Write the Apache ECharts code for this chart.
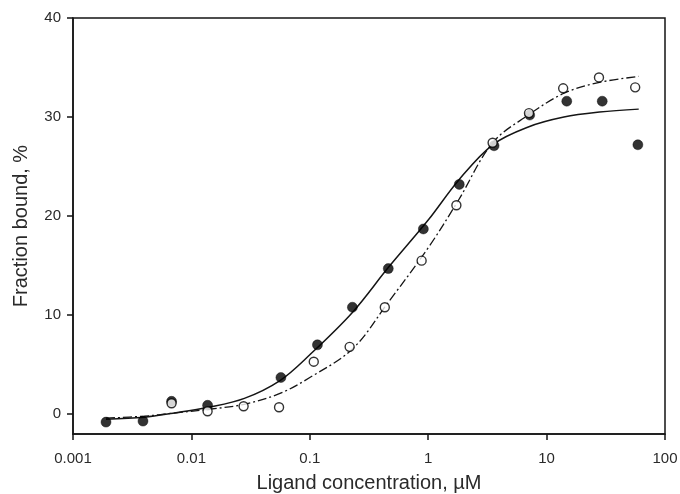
<!DOCTYPE html>
<html>
<head>
<meta charset="utf-8">
<style>
  html, body { margin: 0; padding: 0; background: #fff; }
  #chart { width: 680px; height: 494px; }
</style>
<script src="https://cdn.jsdelivr.net/npm/echarts@6/dist/echarts.min.js"></script>
</head>
<body>
<div id="chart"></div>
<script>
const filledX = [0.0019, 0.0039, 0.0068, 0.0137, 0.057, 0.116, 0.229, 0.46, 0.91, 1.83, 3.6, 7.2, 14.8, 29.5, 59];
const filledY = [-0.8, -0.7, 1.3, 0.9, 3.7, 7.0, 10.8, 14.7, 18.7, 23.2, 27.1, 30.2, 31.6, 31.6, 27.2];

const openX = [0.0068, 0.0137, 0.0276, 0.055, 0.108, 0.217, 0.43, 0.88, 1.73, 3.5, 7.1, 13.8, 27.7, 56];
const openY = [1.1, 0.3, 0.8, 0.7, 5.3, 6.8, 10.8, 15.5, 21.1, 27.4, 30.4, 32.9, 34.0, 33.0];

const curveX = [0.0019, 0.004, 0.007, 0.014, 0.028, 0.056, 0.1, 0.23, 0.46, 1, 1.8, 3.5, 7, 14, 28, 60];
const solidFit = [-0.5, -0.3, 0.1, 0.7, 1.6, 3.4, 6.0, 10.3, 14.8, 19.6, 23.6, 27.2, 29.0, 30.0, 30.5, 30.8];
const dashFit = [-0.4, -0.2, 0.1, 0.5, 1.0, 2.1, 3.7, 6.6, 11.3, 16.8, 21.6, 27.4, 30.2, 32.4, 33.5, 34.1];

const yTicks = [0, 10, 20, 30, 40];

const INK = "#151515";
const TXT = "#2a2a2a";
const FONT = "'Liberation Sans', Arial, sans-serif";

const zip = (xs, ys) => xs.map((x, i) => [x, ys[i]]);

const chart = echarts.init(document.getElementById("chart"), null, { renderer: "canvas" });
chart.setOption({
  animation: false,
  backgroundColor: "#fff",
  grid: { left: 73, right: 15, top: 18, bottom: 60, outerBoundsMode: "none", containLabel: false,
    show: true, borderColor: INK, borderWidth: 1.5, backgroundColor: "transparent" },
  xAxis: {
    type: "log", logBase: 10, min: 0.001, max: 100,
    name: "Ligand concentration, \u00b5M", nameLocation: "middle", nameGap: 39,
    nameTextStyle: { color: TXT, fontFamily: FONT, fontSize: 20 },
    axisLine: { onZero: false, lineStyle: { color: INK, width: 1.5 } },
    axisTick: { length: 6, lineStyle: { color: INK, width: 1.5 } },
    minorTick: { show: false },
    splitLine: { show: false },
    axisLabel: { color: TXT, fontFamily: FONT, fontSize: 15, margin: 17,
      formatter: (v) => String(+Number(v).toPrecision(3)) },
  },
  yAxis: {
    type: "value", min: -2, max: 40,
    name: "Fraction bound, %", nameLocation: "middle", nameGap: 42,
    nameTextStyle: { color: TXT, fontFamily: FONT, fontSize: 20 },
    axisLine: { onZero: false, lineStyle: { color: INK, width: 1.5 } },
    axisTick: { length: 6, lineStyle: { color: INK, width: 1.5 }, customValues: yTicks },
    splitLine: { show: false },
    axisLabel: { color: TXT, fontFamily: FONT, fontSize: 15, margin: 12, customValues: yTicks },
  },
  series: [
    { type: "line", data: zip(curveX, solidFit), smooth: 0.35, symbol: "none",
      lineStyle: { color: INK, width: 1.5 }, z: 2 },
    { type: "line", data: zip(curveX, dashFit), smooth: 0.35, symbol: "none",
      lineStyle: { color: INK, width: 1.3, type: [9, 3, 2, 3] }, z: 2 },
    { type: "scatter", data: zip(filledX, filledY), symbol: "circle", symbolSize: 10,
      itemStyle: { color: "#000", borderColor: "#000", borderWidth: 0.5 }, z: 3 },
    { type: "scatter", data: zip(openX, openY), symbol: "circle", symbolSize: 9,
      itemStyle: { color: "#fff", borderColor: "#000", borderWidth: 1.4 }, z: 4 },
  ],
});
</script>
</body>
</html>
